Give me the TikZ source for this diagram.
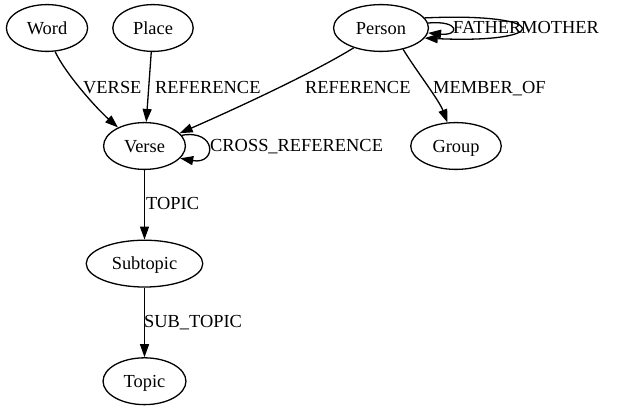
\documentclass[tikz,border=0pt]{standalone}
\usepackage{fontspec}
\setmainfont{Liberation Serif}
\usepackage{tikz}
\usetikzlibrary{arrows.meta}
\usetikzlibrary{positioning}
\usetikzlibrary{shapes.geometric}
\tikzset{
  Entity/.style={
    draw, ellipse, line width=1.3pt,
    inner xsep=8.5pt, inner ysep=10.5pt,
    text height=12.1pt, text depth=0pt
  },
  Rel/.style={inner sep=0pt, anchor=base west},
  Link/.style={
    line width=1.3pt,
    -{Triangle[length=13pt,width=9pt]}
  }
}

\begin{document}
\begin{tikzpicture}[x=1pt,y=-1pt,font=\fontsize{18.4}{22}\selectfont,node distance=69.5pt]
      \useasboundingbox (0,0) rectangle (636,411);
      \node[Entity] (Word) at (47,28) {Word};
      \node[Entity] (Place) at (153,28) {Place};
      \node[Entity] (Person) at (381,28) {Person};
      \node[Entity] (Verse) at (144.5,146) {Verse};
      \node[Entity] (Group) at (456,146) {Group};
      \node[Entity,below=of Verse] (Subtopic) {Subtopic};
      \node[Entity,below=of Subtopic] (Topic) {Topic};
      \node[Rel] (lVerse) at (83,93.5) {VERSE};
      \node[Rel] (lRefPlace) at (155,93.5) {REFERENCE};
      \node[Rel] (lRefPerson) at (305,93.5) {REFERENCE};
      \node[Rel] (lMember) at (433,93.5) {MEMBER\_OF};
      \node[Rel] (lCross) at (210,151.5) {CROSS\_REFERENCE};
      \node[Rel] (lTopic) at (146,210) {TOPIC};
      \node[Rel] (lSubTopic) at (144,327) {SUB\_TOPIC};
      \node[Rel] (lFather) at (453,34) {FATHER};
      \node[Rel] (lMother) at (521,34) {MOTHER};
      \draw[Link] (Word.-71) .. controls (65,73) and (96,108) .. (Verse.145);
      \draw[Link] (Place) -- (Verse);
      \draw[Link] (Person.-144) .. controls (313,73) and (235,109) .. (Verse.20);
      \draw[Link] (Person.-44) .. controls (415,69) and (439,100) .. (Group.110);
      \draw[Link] (Person.6) .. controls (460,20) and (460,36) .. (Person.-6);
      \draw[Link] (Person.13) .. controls (553,12) and (553,44) .. (Person.-13);
      \draw[Link] (Verse.16) .. controls (217,129) and (217,165) .. (Verse.-19);
      \draw[Link] (Verse) -- (Subtopic);
      \draw[Link] (Subtopic) -- (Topic);
\end{tikzpicture}
\end{document}
